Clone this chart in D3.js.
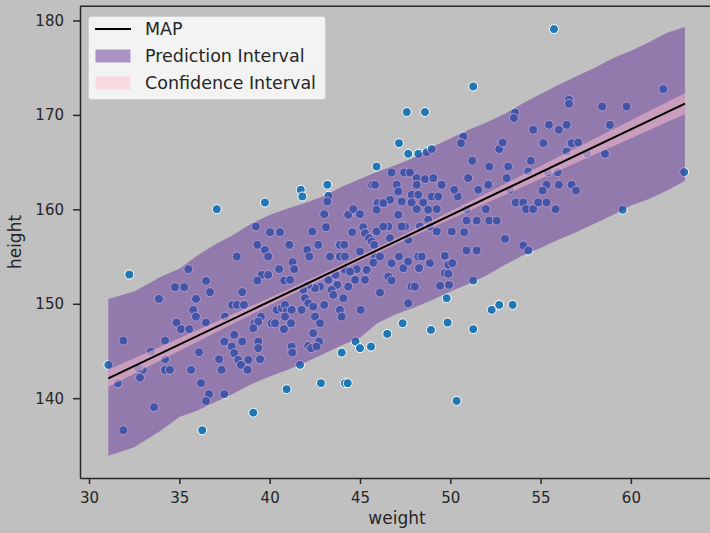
<!DOCTYPE html>
<html>
<head>
<meta charset="utf-8">
<script src="https://cdn.jsdelivr.net/npm/d3@7"></script>
<style>
body { margin: 0; background: #c0c0c0; }
text { font-family: "DejaVu Sans", sans-serif; fill: #262626; }
</style>
</head>
<body>
<svg id="chart" width="710" height="533"></svg>
<script>
var weight = [
  32.23, 35.50, 34.76, 35.27, 36.48, 36.70, 33.87, 35.92, 35.77, 35.92, 34.85, 35.09, 35.55, 36.48, 31.90, 34.21,
  33.43, 36.09, 34.21, 31.07, 32.97, 32.73, 34.21, 34.48, 35.65, 31.59, 32.82, 36.20, 36.64, 36.48, 33.60, 31.90,
  36.27, 37.07, 39.74, 41.72, 41.81, 39.24, 40.02, 40.57, 39.32, 39.74, 39.92, 41.09, 38.18, 41.27, 41.36, 40.52,
  39.56, 39.92, 39.32, 40.81, 41.13, 38.48, 37.92, 38.19, 38.58, 37.53, 39.52, 39.15, 39.37, 40.11, 40.30, 40.39,
  40.67, 40.85, 40.94, 41.22, 40.85, 40.79, 41.18, 39.09, 38.04, 37.49, 37.90, 38.04, 38.48, 39.37, 39.37, 37.20,
  38.26, 38.41, 38.82, 38.78, 39.47, 37.34, 41.22, 41.25, 41.68, 40.94, 39.09, 37.49, 43.19, 43.25, 43.19, 45.68,
  45.83, 45.98, 43.02, 44.35, 44.63, 45.00, 45.92, 43.12, 42.36, 44.57, 45.18, 45.28, 45.92, 45.50, 45.65, 45.79,
  42.69, 42.08, 42.19, 43.89, 44.13, 43.34, 43.89, 44.17, 45.00, 45.83, 45.74, 44.82, 44.17, 44.45, 45.37, 45.28,
  44.73, 43.65, 43.74, 43.25, 42.79, 42.51, 42.14, 41.86, 43.43, 43.52, 44.35, 44.08, 41.96, 42.14, 43.02, 42.41,
  42.51, 43.89, 43.99, 45.04, 42.79, 42.41, 41.77, 42.14, 42.29, 42.73, 42.60, 44.76, 45.00, 45.61, 43.99, 42.84,
  44.17, 44.32, 47.16, 47.67, 48.23, 48.69, 48.97, 45.92, 46.75, 47.45, 47.77, 48.14, 48.60, 49.06, 49.52, 47.03,
  47.12, 48.14, 47.86, 48.23, 48.97, 49.33, 46.66, 46.29, 47.31, 47.86, 48.50, 48.14, 48.78, 49.25, 47.12, 47.49,
  47.31, 46.57, 46.29, 48.78, 48.87, 49.25, 50.08, 47.67, 46.66, 46.11, 47.16, 48.23, 48.42, 49.70, 46.75, 47.40,
  47.67, 48.87, 48.27, 49.89, 50.11, 49.70, 49.89, 46.57, 46.75, 47.86, 48.04, 49.43, 46.11, 47.67, 49.80, 47.36,
  46.51, 48.93, 49.85, 47.59, 48.60, 48.32, 49.93, 55.74, 51.27, 50.72, 50.59, 51.22, 52.71, 52.90, 52.16, 50.99,
  53.21, 53.12, 54.46, 54.32, 55.15, 54.59, 55.46, 56.01, 56.44, 56.72, 57.08, 56.44, 57.58, 58.56, 58.84, 58.41,
  59.76, 56.57, 56.57, 53.58, 53.52, 61.79, 62.95, 55.39, 55.94, 55.33, 55.11, 56.01, 56.72, 56.96, 53.30, 51.55,
  52.10, 50.41, 50.22, 53.62, 54.04, 54.19, 54.59, 54.87, 55.33, 55.83, 51.97, 50.90, 52.16, 52.57, 51.46, 50.90,
  50.77, 53.03, 54.04, 54.32, 50.90, 51.46, 51.27, 52.29, 52.71, 53.45, 51.27, 50.35, 59.54
]
var height = [
  153.09, 153.67, 151.76, 151.76, 152.43, 151.23, 150.52, 150.52, 149.35, 148.64, 148.01, 147.31, 147.31, 148.01, 146.10, 146.10,
  144.94, 144.87, 144.13, 143.53, 143.00, 143.18, 143.00, 143.00, 143.00, 141.59, 142.18, 141.59, 140.42, 139.71, 139.05, 136.61,
  136.61, 160.02, 160.72, 162.07, 161.36, 158.18, 157.58, 157.58, 156.24, 155.71, 155.00, 156.24, 155.00, 154.41, 153.67, 153.67,
  153.06, 153.06, 152.46, 152.46, 152.53, 151.23, 149.88, 149.88, 149.88, 148.64, 148.64, 147.94, 148.11, 147.94, 147.94, 149.35,
  149.53, 149.88, 149.17, 149.35, 148.64, 147.31, 147.94, 147.42, 146.71, 146.00, 145.47, 144.77, 146.00, 146.00, 145.30, 144.13,
  144.06, 143.53, 144.06, 143.00, 144.13, 143.00, 145.47, 144.83, 143.53, 140.95, 138.47, 140.42, 162.60, 161.43, 160.83, 162.60,
  162.60, 160.66, 159.49, 159.42, 160.02, 159.49, 159.95, 158.11, 157.65, 157.58, 158.11, 157.48, 157.65, 156.95, 156.59, 156.24,
  156.24, 155.71, 155.00, 156.24, 156.24, 155.00, 155.00, 155.00, 155.53, 155.00, 154.36, 153.67, 153.59, 153.41, 153.59, 152.53,
  152.53, 153.06, 152.00, 152.53, 151.82, 151.65, 152.00, 151.47, 151.47, 150.94, 151.82, 150.59, 150.59, 150.06, 149.88, 149.70,
  148.64, 149.35, 148.64, 149.35, 147.94, 146.89, 149.35, 145.54, 145.30, 146.00, 145.47, 146.00, 145.30, 145.47, 144.83, 141.59,
  141.59, 141.59, 167.01, 165.88, 165.88, 166.06, 166.38, 164.53, 163.90, 163.90, 163.90, 163.31, 163.20, 163.31, 162.60, 162.60,
  161.89, 162.60, 161.54, 161.54, 161.36, 161.36, 161.01, 160.66, 160.83, 160.72, 160.72, 160.02, 159.95, 160.02, 159.42, 158.18,
  158.18, 158.18, 158.18, 158.89, 158.18, 157.65, 157.65, 156.77, 156.95, 155.00, 155.00, 155.00, 155.00, 155.07, 154.30, 153.77,
  154.47, 154.30, 153.77, 154.12, 154.30, 153.24, 153.17, 152.88, 152.46, 151.82, 151.82, 151.90, 151.19, 150.06, 150.59, 147.94,
  146.81, 147.23, 148.01, 170.30, 170.30, 158.18, 152.00, 179.09, 173.01, 167.71, 167.01, 165.14, 166.38, 167.08, 164.53, 163.31,
  164.53, 163.31, 165.14, 164.00, 167.01, 168.42, 168.95, 168.42, 168.95, 167.01, 167.08, 166.12, 165.88, 165.88, 168.95, 170.89,
  170.89, 171.60, 171.18, 170.25, 169.66, 172.73, 163.94, 163.94, 163.94, 162.60, 161.99, 162.60, 162.60, 161.99, 162.07, 162.07,
  162.60, 161.36, 162.07, 160.72, 160.72, 160.02, 160.02, 160.72, 160.72, 160.02, 160.02, 160.02, 158.81, 158.81, 158.81, 158.81,
  157.58, 156.87, 156.17, 155.64, 155.64, 155.64, 152.46, 149.35, 149.88, 149.88, 147.31, 139.71, 159.95
]

// 89% prediction interval of height
var piWeight = [31.07, 32.5, 34, 35, 36, 37, 38, 39, 40, 41, 42, 43, 44, 45, 46, 47, 48, 49, 50, 51, 52, 53, 54, 55, 56, 57, 58, 59, 60, 61, 62, 62.99]
var piLower = [133.9, 134.8, 136.6, 138.0, 138.7, 139.6, 140.5, 141.5, 142.3, 143.0, 143.8, 144.7, 145.6, 146.4, 148.0, 148.9,
  149.6, 150.4, 151.3, 152.1, 153.0, 154.1, 155.1, 155.9, 156.8, 157.6, 158.5, 159.4, 160.4, 161.1, 162.0, 163.0]
var piUpper = [150.5, 151.3, 152.9, 153.7, 155.1, 156.3, 157.3, 158.5, 159.4, 160.1, 160.7, 161.4, 162.4, 163.2, 164.0, 164.7,
  165.5, 166.6, 167.5, 168.4, 169.2, 170.1, 171.2, 172.2, 173.2, 174.1, 175.0, 176.0, 176.8, 177.7, 178.7, 179.3]

// 89% interval of the mean
var ciWeight = [31.07, 34, 37, 40, 43, 46, 49, 52, 55, 58, 61, 62.99]
var ciLower = [141.2, 144.05, 146.95, 149.84, 152.68, 155.43, 158.07, 160.66, 163.23, 165.81, 168.38, 170.1]
var ciUpper = [143.0, 145.49, 148.07, 150.64, 153.28, 155.99, 158.83, 161.70, 164.59, 167.49, 170.38, 172.3]

// MAP line
var mapWeight = [31.07, 62.99]
var mapHeight = [142.1, 171.2]

var xTicks = [30, 35, 40, 45, 50, 55, 60]
var yTicks = [140, 150, 160, 170, 180]

var svg = d3.select("#chart")

var x = d3.scaleLinear()
    .domain([29.5, 64.6])
    .range([80, 714])

var y = d3.scaleLinear()
    .domain([131.55, 181.5])
    .range([478, 6.3])

// scatter goes first, the bands are drawn over it
svg.append("g")
    .selectAll("circle")
    .data(weight)
    .enter().append("circle")
    .attr("cx", function (d) { return x(d) })
    .attr("cy", function (d, i) { return y(height[i]) })
    .attr("r", 4.5)
    .attr("fill", "#1f77b4")
    .attr("stroke", "#ffffff")
    .attr("stroke-width", 1)

var band = d3.area()
    .x(function (d) { return x(d[0]) })
    .y0(function (d) { return y(d[1]) })
    .y1(function (d) { return y(d[2]) })

svg.append("path")
    .datum(piWeight.map(function (d, i) { return [d, piLower[i], piUpper[i]] }))
    .attr("d", band)
    .attr("fill", "rebeccapurple")
    .attr("fill-opacity", 0.5)

svg.append("path")
    .datum(ciWeight.map(function (d, i) { return [d, ciLower[i], ciUpper[i]] }))
    .attr("d", band)
    .attr("fill", "pink")
    .attr("fill-opacity", 0.5)

var line = d3.line()
    .x(function (d) { return x(d[0]) })
    .y(function (d) { return y(d[1]) })

svg.append("path")
    .datum(mapWeight.map(function (d, i) { return [d, mapHeight[i]] }))
    .attr("d", line)
    .attr("fill", "none")
    .attr("stroke", "#000")
    .attr("stroke-width", 2)

// axes
var xAxis = svg.append("g")
    .attr("transform", "translate(0,478)")
    .call(d3.axisBottom(x).tickValues(xTicks).tickSize(6).tickPadding(8).tickSizeOuter(0))

var yAxis = svg.append("g")
    .attr("transform", "translate(80,0)")
    .call(d3.axisLeft(y).tickValues(yTicks).tickSize(7).tickPadding(9).tickSizeOuter(0))

svg.selectAll(".domain").attr("stroke", "#262626").attr("stroke-width", 1.5)
svg.selectAll(".tick line").attr("stroke", "#262626").attr("stroke-width", 1.5)
svg.selectAll(".tick text").attr("font-size", 15).attr("font-family", "DejaVu Sans").attr("fill", "#262626")

// top spine
svg.append("line")
    .attr("x1", 80).attr("x2", 714)
    .attr("y1", 6.3).attr("y2", 6.3)
    .attr("stroke", "#262626")
    .attr("stroke-width", 1.5)

svg.append("text")
    .attr("x", 397)
    .attr("y", 524)
    .attr("text-anchor", "middle")
    .attr("font-size", 17)
    .text("weight")

svg.append("text")
    .attr("transform", "translate(21,242) rotate(-90)")
    .attr("text-anchor", "middle")
    .attr("font-size", 17)
    .text("height")

// legend
var legend = svg.append("g")

legend.append("rect")
    .attr("x", 88.5).attr("y", 16.5)
    .attr("width", 237).attr("height", 83)
    .attr("rx", 3)
    .attr("fill", "#ffffff").attr("fill-opacity", 0.8)
    .attr("stroke", "#cccccc").attr("stroke-opacity", 0.8)

var entries = [
  { label: "MAP", kind: "line" },
  { label: "Prediction Interval", kind: "rebeccapurple" },
  { label: "Confidence Interval", kind: "pink" }
]

entries.forEach(function (e, i) {
    var cy = 29 + i * 27
    if (e.kind == "line") {
        legend.append("line")
            .attr("x1", 95).attr("x2", 131)
            .attr("y1", cy).attr("y2", cy)
            .attr("stroke", "#000").attr("stroke-width", 2)
    } else {
        legend.append("rect")
            .attr("x", 95.5).attr("y", cy - 6.5)
            .attr("width", 35).attr("height", 13)
            .attr("fill", e.kind).attr("fill-opacity", 0.5)
    }
    legend.append("text")
        .attr("x", 145)
        .attr("y", cy)
        .attr("dy", "0.36em")
        .attr("font-size", 17.5)
        .text(e.label)
})
</script>
</body>
</html>
